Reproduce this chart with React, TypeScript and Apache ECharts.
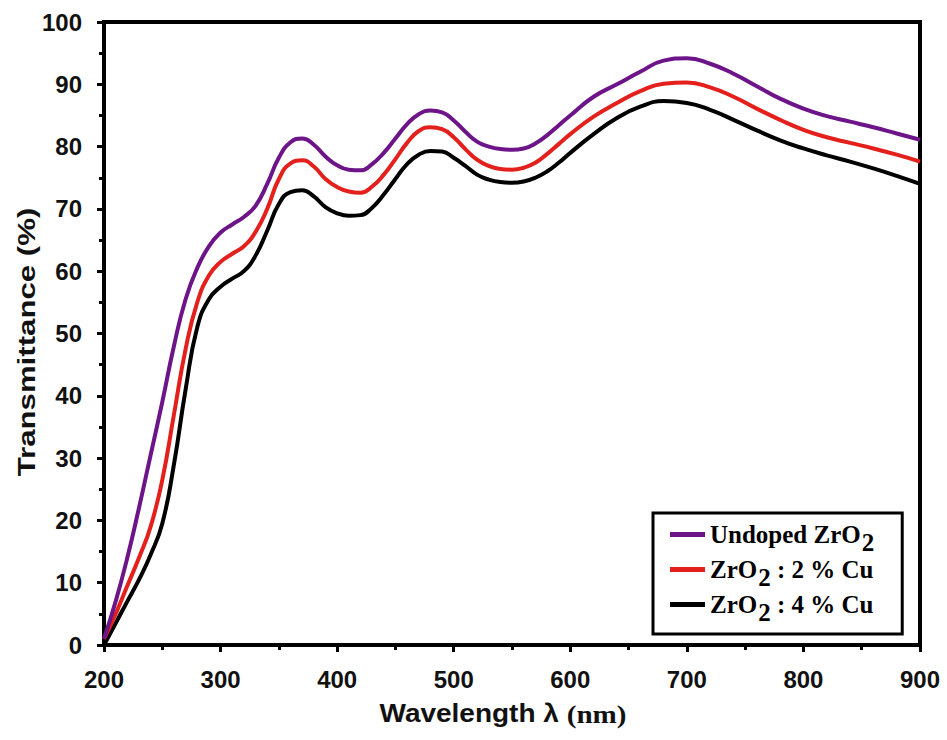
import React, { useEffect, useRef } from "react";
import * as echarts from "echarts";

const xTicks = [200, 300, 400, 500, 600, 700, 800, 900];
const seriesNames = ["Undoped ZrO2", "ZrO2 : 2 % Cu", "ZrO2 : 4 % Cu"];
const seriesColors = ["#6c1488", "#e3201c", "#000000"];

const wavelength = [
  200, 210, 220, 230, 240, 250, 260, 270, 280, 290, 300, 310, 320, 330, 340, 350, 360, 370, 380, 390,
  400, 410, 420, 430, 440, 450, 460, 470, 480, 490, 500, 510, 520, 530, 540, 550, 560, 570, 580, 590,
  600, 620, 640, 660, 680, 700, 720, 740, 760, 780, 800, 820, 840, 860, 880, 900,
];

const undopedT = [
  1, 7, 14, 22, 30.5, 39, 48, 55.5, 60.5, 64, 66.2, 67.5, 68.7, 70.5, 74, 78.2, 80.7, 81.3, 80.3, 78.4,
  77, 76.3, 76.2, 77.2, 79, 81.3, 83.6, 85.2, 85.8, 85.5, 84.2, 82.4, 80.8, 80, 79.6, 79.5, 79.7, 80.5, 81.8, 83.4,
  85, 88, 90, 92, 93.8, 94.2, 93.3, 91.7, 89.7, 87.7, 86.1, 84.9, 84, 83.1, 82.1, 81.1,
];

const cu2T = [
  1, 5, 9.5, 14, 19, 26.5, 37, 47.5, 55, 59.3, 61.5, 62.8, 64, 66.3, 70, 74.8, 77.3, 77.8, 76.8, 74.8,
  73.5, 72.8, 72.6, 73.6, 75.5, 78, 80.6, 82.5, 83.1, 82.8, 81.5, 79.6, 77.9, 76.9, 76.4, 76.3, 76.6, 77.4, 78.8, 80.4,
  82, 84.8, 87, 88.9, 90.1, 90.3, 89.5, 88, 86.1, 84.3, 82.7, 81.5, 80.6, 79.7, 78.7, 77.6,
];

const cu4T = [
  0, 3.5, 7, 10.5, 14.5, 19.5, 29, 41, 51, 55.5, 57.5, 58.8, 60, 62.5, 66.5, 70.8, 72.7, 73, 72, 70.3,
  69.3, 68.9, 69, 70.2, 72.3, 74.8, 77.2, 78.7, 79.3, 79.2, 78.2, 76.9, 75.5, 74.7, 74.3, 74.2, 74.4, 75, 76, 77.4,
  79, 82, 84.6, 86.4, 87.3, 87, 85.9, 84.3, 82.6, 81, 79.7, 78.6, 77.6, 76.5, 75.3, 74,
];

const allT = [undopedT, cu2T, cu4T];

const legendRich: Record<string, string> = {
  "Undoped ZrO2": "{t|Undoped ZrO}{s|2}",
  "ZrO2 : 2 % Cu": "{t|ZrO}{s|2}{t| : 2 % Cu}",
  "ZrO2 : 4 % Cu": "{t|ZrO}{s|2}{t| : 4 % Cu}",
};

export default function App() {
  const ref = useRef<HTMLDivElement>(null);
  useEffect(() => {
    if (!ref.current) return;
    const chart = echarts.init(ref.current, null, { renderer: "svg" });
    const sans = "'Liberation Sans', Arial, sans-serif";
    const serif = "'Liberation Serif', 'Times New Roman', serif";
    const axisCommon = {
      axisLine: { show: true, lineStyle: { color: "#000", width: 4 } },
      axisTick: { show: true, inside: false, length: 7, lineStyle: { color: "#000", width: 3 } },
      minorTick: { show: true, splitNumber: 2, length: 5, lineStyle: { color: "#000", width: 3 } },
      splitLine: { show: false },
      minorSplitLine: { show: false },
      axisLabel: { color: "#111", fontSize: 24, fontWeight: "bold", fontFamily: sans, margin: 22 },
    };
    chart.setOption({
      animation: false,
      backgroundColor: "#fff",
      grid: {
        left: 104,
        right: 27,
        top: 22,
        bottom: 95,
        show: true,
        borderColor: "#000",
        borderWidth: 4,
        backgroundColor: "transparent",
      },
      xAxis: {
        type: "value",
        min: xTicks[0],
        max: xTicks[xTicks.length - 1],
        interval: 100,
        ...axisCommon,
      },
      yAxis: {
        type: "value",
        min: 0,
        max: 100,
        interval: 10,
        ...axisCommon,
      },
      legend: {
        orient: "vertical",
        left: 653,
        top: 513,
        padding: [9, 28, 9, 17],
        borderColor: "#000",
        borderWidth: 3,
        backgroundColor: "#fff",
        icon: "rect",
        itemWidth: 35,
        itemHeight: 5,
        itemGap: 2,
        itemTextGap: 8,
        data: seriesNames,
        formatter: (name: string) => legendRich[name],
        textStyle: {
          rich: {
            t: { fontFamily: serif, fontWeight: "bold", fontSize: 25, color: "#000", lineHeight: 25, verticalAlign: "top" },
            s: { fontFamily: serif, fontWeight: "bold", fontSize: 25, color: "#000", lineHeight: 25, verticalAlign: "top", padding: [8, 0, 0, 1] },
          },
        },
      },
      graphic: [
        {
          type: "text",
          x: 27,
          y: 342,
          rotation: Math.PI / 2,
          scaleX: 1.3,
          style: {
            text: "Transmittance (%)",
            font: `bold 24px ${sans}`,
            fill: "#111",
            textAlign: "center",
            textVerticalAlign: "middle",
          },
        },
        {
          type: "text",
          x: 503,
          y: 714,
          scaleX: 1.12,
          style: {
            text: "{a|Wavelength λ }{b|(nm)}",
            textAlign: "center",
            textVerticalAlign: "middle",
            fill: "#111",
            rich: {
              a: { font: `bold 25px ${sans}`, fill: "#111" },
              b: { font: `bold 26px ${serif}`, fill: "#111" },
            },
          },
        },
      ],
      series: seriesNames.map((name, i) => ({
        name,
        type: "line",
        smooth: 0.5,
        showSymbol: false,
        symbol: "none",
        color: seriesColors[i],
        lineStyle: { width: 4, color: seriesColors[i] },
        data: wavelength.map((w, k) => [w, allT[i][k]]),
        z: 3 - i,
      })),
    });
    return () => chart.dispose();
  }, []);
  return <div ref={ref} style={{ position: "fixed", left: 0, top: 0, width: 947, height: 740 }} />;
}
